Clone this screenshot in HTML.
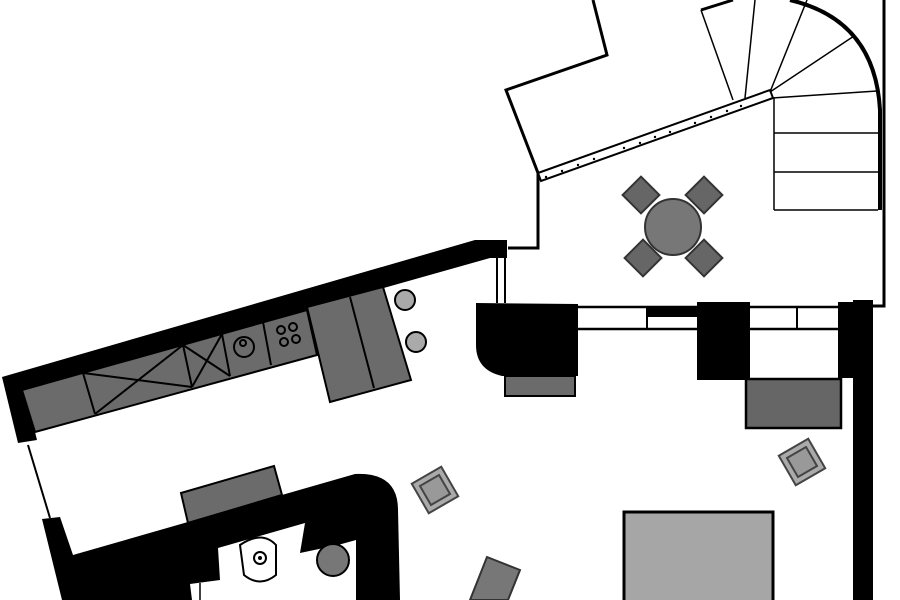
<!DOCTYPE html><html><head><style>body{margin:0;background:#fff}svg{display:block}</style></head><body>
<svg width="900" height="600" viewBox="0 0 900 600" xmlns="http://www.w3.org/2000/svg">
<g fill="none" stroke="#000" stroke-width="3">
<polyline points="593,0 607,55 506,90 538,173 538,248 508,248"/>
<polyline points="701,10 733,0"/>
<line x1="701" y1="10" x2="733" y2="100" stroke-width="1.5"/>
<polyline points="884,0 884,306 873,306"/>
</g>
<polygon points="538,173 770,90 773,98 541,181" fill="#fff" stroke="#000" stroke-width="2"/>
<g fill="#000"><circle cx="546" cy="177" r="1.2"/><circle cx="562" cy="171" r="1.2"/><circle cx="578" cy="165" r="1.2"/><circle cx="594" cy="159" r="1.2"/><circle cx="624" cy="148" r="1.2"/><circle cx="640" cy="143" r="1.2"/><circle cx="655" cy="137" r="1.2"/><circle cx="670" cy="132" r="1.2"/><circle cx="695" cy="123" r="1.2"/><circle cx="711" cy="117" r="1.2"/><circle cx="727" cy="111" r="1.2"/><circle cx="741" cy="106" r="1.2"/></g>
<g stroke="#000" stroke-width="1.5" fill="none">
<line x1="745" y1="98" x2="755" y2="0"/><line x1="770" y1="92" x2="807" y2="0"/><line x1="770" y1="92" x2="854" y2="36"/><line x1="772" y1="98" x2="877" y2="91"/>
<line x1="774" y1="98" x2="774" y2="210"/>
<line x1="774" y1="133" x2="878" y2="133"/><line x1="774" y1="172" x2="878" y2="172"/><line x1="774" y1="210" x2="878" y2="210"/>
<path d="M790,0 Q875,20 880,110 L880,210" stroke-width="4"/>
</g>
<g fill="#666" stroke="#333" stroke-width="2">
<rect x="-13" y="-13" width="26" height="26" transform="translate(641,195) rotate(45)"/>
<rect x="-13" y="-13" width="26" height="26" transform="translate(704,195) rotate(45)"/>
<rect x="-13" y="-13" width="26" height="26" transform="translate(643,258) rotate(45)"/>
<rect x="-13" y="-13" width="26" height="26" transform="translate(704,258) rotate(45)"/>
<circle cx="673" cy="227" r="28" fill="#777"/>
</g>
<polygon points="2,377 475,240 507,240 507,258 490,258 22,390 35,432 37,440 18,443" fill="#000"/>
<g stroke="#000" stroke-width="2" fill="none"><line x1="497" y1="258" x2="497" y2="303"/><line x1="505" y1="258" x2="505" y2="303"/></g>
<polygon points="22,390 307,310 317,355 35,432" fill="#6b6b6b" stroke="#000" stroke-width="2"/>
<g stroke="#000" stroke-width="2" fill="none">
<line x1="83" y1="373" x2="95" y2="414"/><line x1="183" y1="345" x2="192" y2="387"/><line x1="222" y1="334" x2="230" y2="376"/><line x1="263" y1="322" x2="271" y2="365"/>
<line x1="83" y1="373" x2="192" y2="387"/><line x1="95" y1="414" x2="183" y2="345"/>
<line x1="183" y1="345" x2="230" y2="376"/><line x1="192" y1="387" x2="222" y2="334"/>
<circle cx="244" cy="347" r="10"/><circle cx="243" cy="343" r="3"/>
<circle cx="281" cy="330" r="4"/><circle cx="293" cy="327" r="4"/><circle cx="284" cy="342" r="4"/><circle cx="296" cy="339" r="4"/>
</g>
<polygon points="307,307 383,287 411,380 330,402" fill="#6b6b6b" stroke="#000" stroke-width="2"/>
<line x1="350" y1="297" x2="374" y2="388" stroke="#000" stroke-width="2"/>
<circle cx="405" cy="300" r="10" fill="#aaa" stroke="#000" stroke-width="2"/>
<circle cx="416" cy="342" r="10" fill="#aaa" stroke="#000" stroke-width="2"/>
<line x1="28" y1="445" x2="50" y2="518" stroke="#000" stroke-width="2"/>
<polygon points="181,493 274,466 282,495 188,523" fill="#6b6b6b" stroke="#000" stroke-width="2"/>
<path d="M42,519 L60,517 L73,555 L355,474 Q398,472 398,510 L400,600 L356,600 L356,540 L338,545 L300,553 L305,523 L218,548 L220,580 L190,584 L192,600 L62,600 Z" fill="#000"/>
<path d="M240,545 Q262,530 276,545 L276,575 Q260,588 244,575 Z" fill="#fff" stroke="#000" stroke-width="2"/>
<circle cx="260" cy="558" r="6" fill="#fff" stroke="#000" stroke-width="2"/><circle cx="260" cy="558" r="2" fill="#000"/>
<circle cx="333" cy="560" r="16" fill="#777" stroke="#000" stroke-width="2"/>
<line x1="200" y1="583" x2="200" y2="600" stroke="#000" stroke-width="1.5"/>
<g stroke="#000" stroke-width="2.5" fill="#fff"><rect x="575" y="307" width="265" height="22"/></g>
<rect x="648" y="307" width="50" height="10" fill="#000"/>
<line x1="647" y1="307" x2="647" y2="329" stroke="#000" stroke-width="2"/>
<line x1="797" y1="307" x2="797" y2="329" stroke="#000" stroke-width="2"/>
<path d="M476,303 L578,304 L578,376 L502,376 Q476,370 476,345 Z" fill="#000"/>
<rect x="505" y="376" width="70" height="20" fill="#6b6b6b" stroke="#000" stroke-width="2"/>
<rect x="697" y="302" width="53" height="78" fill="#000"/>
<rect x="746" y="379" width="95" height="49" fill="#666" stroke="#000" stroke-width="2.5"/>
<rect x="838" y="302" width="34" height="76" fill="#000"/>
<rect x="853" y="300" width="20" height="300" fill="#000"/>
<g fill="#aaa" stroke="#444" stroke-width="2">
<g transform="translate(435,490) rotate(-30)"><rect x="-17" y="-17" width="34" height="34"/><rect x="-11" y="-11" width="22" height="22" fill="#999"/></g>
<g transform="translate(802,462) rotate(-30)"><rect x="-17" y="-17" width="34" height="34"/><rect x="-11" y="-11" width="22" height="22" fill="#999"/></g>
</g>
<polygon points="487,557 520,570 508,600 470,600" fill="#777" stroke="#333" stroke-width="2"/>
<rect x="624" y="512" width="149" height="90" fill="#a6a6a6" stroke="#000" stroke-width="3"/>
</svg></body></html>
